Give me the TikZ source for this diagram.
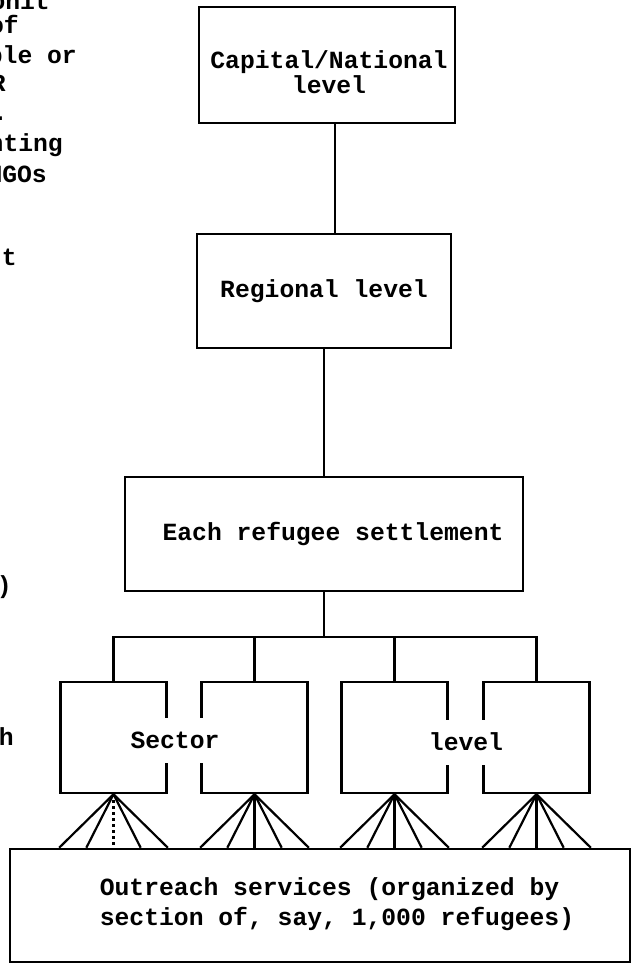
\documentclass[tikz,border=0pt]{standalone}
\usepackage{fontspec}
\setmonofont{Liberation Mono}
\usepackage{tikz}
\usetikzlibrary{calc, positioning}
\newcommand{\twfont}{\ttfamily\bfseries\fontsize{24.7}{30}\selectfont}
\tikzset{
    lvl/.style={draw, rectangle, line width=2.6pt, inner sep=0pt, align=center, font=\twfont},
    sect/.style={draw, rectangle, line width=2.6pt, minimum width=106pt, minimum height=111pt},
    lab/.style={fill=white, inner xsep=1pt, inner ysep=0pt, minimum height=45pt, font=\twfont},
    side/.style={anchor=mid east, inner sep=0pt, font=\twfont},
    txt/.style={inner sep=0pt, align=center, font=\twfont},
    conn/.style={-, line width=2.6pt},
    fan/.style={-, line width=2.2pt},
}
\begin{document}
\begin{tikzpicture}[x=1pt, y=-1pt]
    \useasboundingbox (0,0) rectangle (633,966);
    \clip (0,0) rectangle (633,966);

    \foreach \x/\y/\t [count=\k] in {50/7/onit, 19/31/of, 77/61/ple or, 6/89/R, 8/118/., 63/149/nting, 47/180/NGOs, 17/263/t, 12/591/{)}, 14/743/h}
        \node[side] (edge\k) at (\x,\y) {\t};

    \node[lvl, minimum width=256pt, minimum height=116pt] (cap) at (327,65) {};
    \node[txt] (captxt) at (329,72) {Capital/National\\[-5pt]level};
    \node[lvl, minimum width=254pt, minimum height=114pt] (reg) at (324,291) {Regional level};
    \node[lvl, minimum width=398pt, minimum height=114pt] (set) at (324,534) {\hspace{18pt}Each refugee settlement};

    \node[sect] (s1) at (113.5,737.5) {};
    \node[sect] (s2) at (254.5,737.5) {};
    \node[sect] (s3) at (394.5,737.5) {};
    \node[sect] (s4) at (536.5,737.5) {};

    \node[lvl, minimum width=620pt, minimum height=113pt] (out) at (320,905.5) {};
    \node[txt, align=left] (outtxt) at (337,904) {Outreach services (organized by\\section of, say, 1,000 refugees)};

    \node[lab] (sectxt) at (175,740) {Sector};
    \node[lab] (levtxt) at (466,742) {level};

    \draw[conn] ([xshift=8pt]cap.south) -- ([xshift=8pt]cap.south |- reg.north);
    \draw[conn] (reg.south) -- (set.north);

    \coordinate (bar) at (322,637);
    \foreach \i in {1,...,4}
        \draw[conn] (set.south) -- (set.south |- bar) -| (s\i.north);

    \foreach \i/\m in {1/dashed, 2/solid, 3/solid, 4/solid} {
        \foreach \f in {0,0.25,0.75,1} {
            \path ($(s\i.south west)!\f!(s\i.south east)$) coordinate (p);
            \draw[fan] (s\i.south) -- (p |- out.north);
        }
        \draw[fan, \m] (s\i.south) -- (s\i.south |- out.north);
    }
\end{tikzpicture}
\end{document}
